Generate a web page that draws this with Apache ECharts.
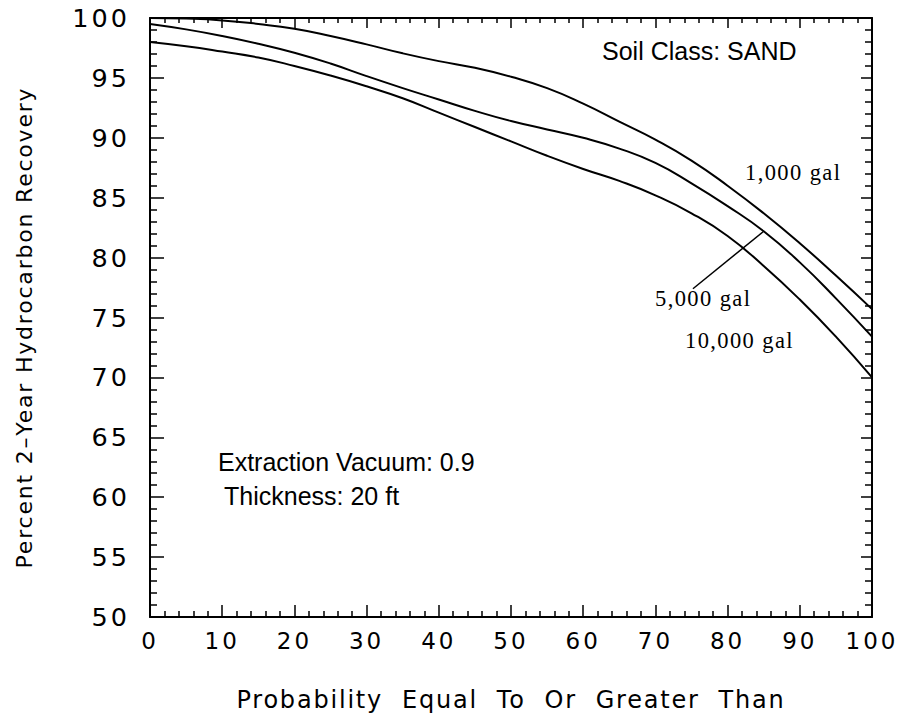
<!DOCTYPE html>
<html>
<head>
<meta charset="utf-8">
<script src="https://cdn.jsdelivr.net/npm/echarts@6/dist/echarts.min.js"></script>
<style>
  html, body { margin: 0; padding: 0; background: #fff; }
  #chart { width: 897px; height: 718px; }
  /* wide plotter-style lettering */
  #chart text[style*="25.5px"] { letter-spacing: 3px; }
  #chart text[style*="23px"] { letter-spacing: 3px; }
  #chart text[style*="24px"] { letter-spacing: 1.8px; }
  #chart text[style*="22px"] { letter-spacing: 1.8px; }
  #chart text[style*="22.5px"] { letter-spacing: 1.4px; }
</style>
</head>
<body>
<div id="chart"></div>
<script>
// Probability (%) at which each recovery value is read
const probability = [0, 5, 10, 15, 20, 25, 30, 35, 40, 45, 50, 55, 60, 65, 70, 75, 80, 85, 90, 95, 100];

// Percent 2-year hydrocarbon recovery for each spill volume
const recovery1000 = [100.0, 99.95, 99.8, 99.5, 99.1, 98.5, 97.8, 97.05, 96.4, 95.85, 95.1, 94.15, 92.85, 91.35, 89.85, 88.1, 86.0, 83.7, 81.2, 78.5, 75.7];
const recovery5000 = [99.5, 99.05, 98.5, 97.85, 97.1, 96.2, 95.15, 94.15, 93.2, 92.25, 91.4, 90.7, 90.0, 89.1, 87.9, 86.2, 84.3, 82.2, 79.6, 76.6, 73.4];
const recovery10000 = [98.0, 97.65, 97.2, 96.7, 96.0, 95.2, 94.3, 93.3, 92.1, 90.9, 89.7, 88.5, 87.4, 86.4, 85.2, 83.7, 81.8, 79.3, 76.5, 73.4, 70.0];

// Leader from the 5,000 gal curve down to its label (data coordinates)
const leaderX = [85, 75.2];
const leaderY = [82.2, 77.4];

const seriesNames = ['1,000 gal', '5,000 gal', '10,000 gal'];
const xTitle = 'Probability  Equal  To  Or  Greater  Than';
const yTitle = 'Percent 2\u2013Year Hydrocarbon Recovery';
const notes = ['Soil Class: SAND', 'Extraction Vacuum: 0.9', 'Thickness: 20 ft'];

const SANS = '"DejaVu Sans", "Liberation Sans", sans-serif';
const HELV = '"Liberation Sans", Arial, sans-serif';
const SERIF = '"Liberation Serif", "DejaVu Serif", serif';

const pairs = (xs, ys) => xs.map((x, i) => [x, ys[i]]);

const chart = echarts.init(document.getElementById('chart'), null, { renderer: 'svg' });

const frameLine = { show: true, onZero: false, lineStyle: { color: '#000', width: 2 } };
const tickStyle = { color: '#000', width: 1.5 };

const curve = (name, values) => ({
  name, type: 'line', smooth: 0.5, symbol: 'none',
  data: pairs(probability, values),
  lineStyle: { color: '#000', width: 2 }
});

const note = (text, x, y, font) => ({
  type: 'text',
  style: { text, x, y, font, fill: '#000', textAlign: 'left', textVerticalAlign: 'middle' }
});

chart.setOption({
  animation: false,
  backgroundColor: '#fff',
  grid: { left: 150, right: 25, top: 18, bottom: 101, containLabel: false },
  xAxis: [
    {
      type: 'value', min: 0, max: 100, interval: 10, position: 'bottom',
      axisLine: frameLine,
      axisTick: { show: true, inside: true, length: 12, lineStyle: tickStyle },
      minorTick: { show: true, splitNumber: 5, length: 6, lineStyle: tickStyle },
      splitLine: { show: false },
      axisLabel: { color: '#000', fontFamily: SANS, fontSize: 23, margin: 12 },
      name: xTitle, nameLocation: 'middle', nameGap: 71,
      nameTextStyle: { color: '#000', fontFamily: SANS, fontSize: 24 }
    },
    {
      type: 'value', min: 0, max: 100, interval: 10, position: 'top',
      axisLine: frameLine,
      axisTick: { show: true, inside: true, length: 10, lineStyle: tickStyle },
      minorTick: { show: true, splitNumber: 5, length: 5, lineStyle: tickStyle },
      splitLine: { show: false },
      axisLabel: { show: false }
    }
  ],
  yAxis: [
    {
      type: 'value', min: 50, max: 100, interval: 5, position: 'left',
      axisLine: frameLine,
      axisTick: { show: true, inside: true, length: 14, lineStyle: tickStyle },
      minorTick: { show: true, splitNumber: 5, length: 7, lineStyle: tickStyle },
      splitLine: { show: false },
      axisLabel: { color: '#000', fontFamily: SANS, fontSize: 25.5, margin: 20 },
      name: yTitle, nameLocation: 'middle', nameGap: 115, nameRotate: 90,
      nameTextStyle: { color: '#000', fontFamily: SANS, fontSize: 22, padding: [0, 20, 0, 0] }
    },
    {
      type: 'value', min: 50, max: 100, interval: 5, position: 'right',
      axisLine: frameLine,
      axisTick: { show: true, inside: true, length: 11, lineStyle: tickStyle },
      minorTick: { show: true, splitNumber: 5, length: 7, lineStyle: tickStyle },
      splitLine: { show: false },
      axisLabel: { show: false }
    }
  ],
  series: [
    curve(seriesNames[0], recovery1000),
    curve(seriesNames[1], recovery5000),
    curve(seriesNames[2], recovery10000),
    { name: 'leader', type: 'line', symbol: 'none', data: pairs(leaderX, leaderY),
      lineStyle: { color: '#000', width: 1.5 } }
  ],
  graphic: [
    note(notes[0], 602, 51, '25px ' + HELV),
    note(seriesNames[0], 745, 172, '22.5px ' + SERIF),
    note(seriesNames[1], 655, 298, '22.5px ' + SERIF),
    note(seriesNames[2], 685, 340, '22.5px ' + SERIF),
    note(notes[1], 218, 462, '25px ' + HELV),
    note(notes[2], 224, 496, '25px ' + HELV)
  ]
});
</script>
</body>
</html>
